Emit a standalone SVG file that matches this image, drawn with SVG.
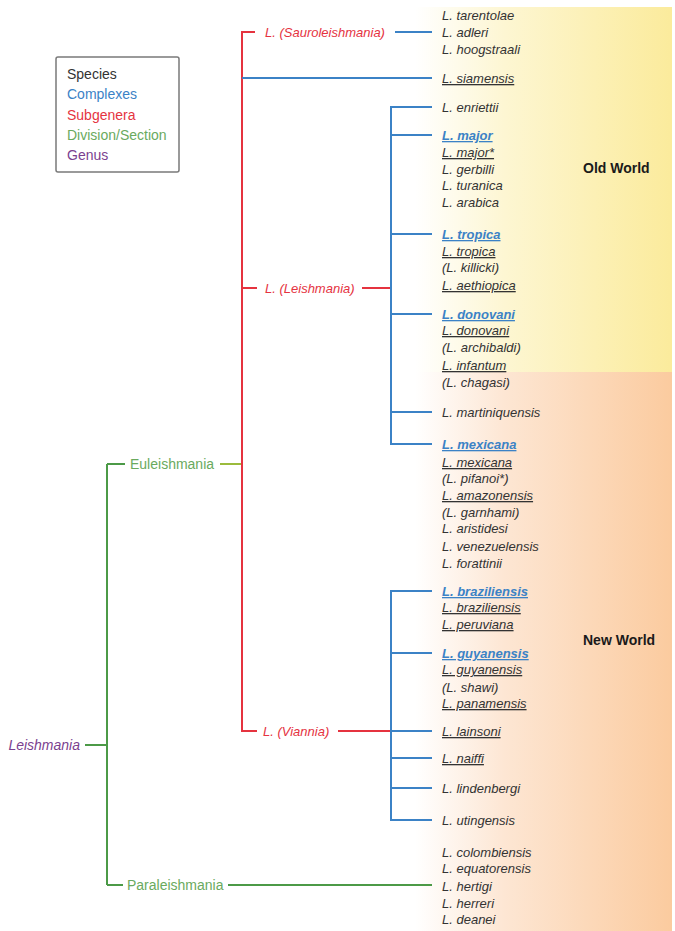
<svg xmlns="http://www.w3.org/2000/svg" width="675" height="931" viewBox="0 0 675 931">
<style>
.sp{font-family:"Liberation Sans",Arial,sans-serif;font-style:italic;font-size:13px;fill:#333333}
.u{text-decoration:underline}
.cx{font-family:"Liberation Sans",Arial,sans-serif;font-style:italic;font-weight:bold;font-size:13px;fill:#3b82c6;text-decoration:underline}
.sg{font-family:"Liberation Sans",Arial,sans-serif;font-style:italic;font-size:13px;fill:#e5333f}
.dv{font-family:"Liberation Sans",Arial,sans-serif;font-size:14px;fill:#6aaa5e}
.gn{font-family:"Liberation Sans",Arial,sans-serif;font-style:italic;font-size:14px;fill:#7b3f8f}
.wl{font-family:"Liberation Sans",Arial,sans-serif;font-weight:bold;font-size:14px;fill:#1a1a1a}
.lg{font-family:"Liberation Sans",Arial,sans-serif;font-size:14px}
.r{stroke:#e5333f;stroke-width:2;fill:none}
.b{stroke:#3b82c6;stroke-width:2;fill:none}
.g{stroke:#4c9a47;stroke-width:2;fill:none}
</style>
<defs>
<linearGradient id="yel" x1="0" y1="0" x2="1" y2="0">
<stop offset="0" stop-color="#ffffff"/>
<stop offset="0.35" stop-color="#fdf6d2"/>
<stop offset="1" stop-color="#fbeb9c"/>
</linearGradient>
<linearGradient id="org" x1="0" y1="0" x2="1" y2="0">
<stop offset="0" stop-color="#ffffff"/>
<stop offset="0.35" stop-color="#fde6d3"/>
<stop offset="1" stop-color="#fbcb9f"/>
</linearGradient>
</defs>
<rect width="675" height="931" fill="#ffffff"/>
<rect id="oldworld-bg" x="415" y="7" width="257" height="365" fill="url(#yel)"/>
<rect id="newworld-bg" x="415" y="372" width="257" height="559" fill="url(#org)"/>

<g id="legend">
<rect x="56" y="57" width="123" height="115" fill="#ffffff" stroke="#7a7a7a" stroke-width="1.5" rx="2"/>
<text class="lg" x="67" y="79" fill="#333333">Species</text>
<text class="lg" x="67" y="99" fill="#3b82c6">Complexes</text>
<text class="lg" x="67" y="120" fill="#e5333f">Subgenera</text>
<text class="lg" x="67" y="140" fill="#6aaa5e">Division/Section</text>
<text class="lg" x="67" y="160" fill="#7b3f8f">Genus</text>
</g>

<g id="connectors">
<path class="g" d="M85 745H107M107 464V885M107 464H125M107 885H123"/>
<path d="M220 464H242" stroke="#9bbb3c" stroke-width="2"/>
<path class="g" d="M228 885H432"/>
<path class="r" d="M255 32H242V731H257M242 288H257M362 288H391M338 731H391"/>
<path class="b" d="M395 32H432M242 78H432"/>
<path class="b" d="M432 107H391V444H432M391 135H432M391 234H432M391 314H432M391 412H432"/>
<path class="b" d="M432 591H391V820H432M391 653H432M391 731H432M391 758H432M391 788H432"/>
</g>

<g id="genus"><text class="gn" x="80" y="750" text-anchor="end">Leishmania</text></g>
<g id="euleishmania"><text class="dv" x="130" y="469">Euleishmania</text></g>
<g id="paraleishmania"><text class="dv" x="127" y="890">Paraleishmania</text></g>
<g id="sauroleishmania"><text class="sg" x="265" y="37">L. (Sauroleishmania)</text></g>
<g id="leishmania-sub"><text class="sg" x="265" y="293">L. (Leishmania)</text></g>
<g id="viannia"><text class="sg" x="263" y="736">L. (Viannia)</text></g>

<g id="saur-species">
<text class="sp" x="442" y="20">L. tarentolae</text>
<text class="sp" x="442" y="37">L. adleri</text>
<text class="sp" x="442" y="54">L. hoogstraali</text>
</g>
<g id="siamensis"><text class="sp u" x="442" y="83">L. siamensis</text></g>
<g id="enriettii"><text class="sp" x="442" y="112">L. enriettii</text></g>
<g id="major-complex">
<text class="cx" x="442" y="140">L. major</text>
<text class="sp u" x="442" y="157">L. major*</text>
<text class="sp" x="442" y="174">L. gerbilli</text>
<text class="sp" x="442" y="190">L. turanica</text>
<text class="sp" x="442" y="207">L. arabica</text>
</g>
<g id="tropica-complex">
<text class="cx" x="442" y="239">L. tropica</text>
<text class="sp u" x="442" y="256">L. tropica</text>
<text class="sp" x="442" y="272">(L. killicki)</text>
<text class="sp u" x="442" y="290">L. aethiopica</text>
</g>
<g id="donovani-complex">
<text class="cx" x="442" y="319">L. donovani</text>
<text class="sp u" x="442" y="335">L. donovani</text>
<text class="sp" x="442" y="352">(L. archibaldi)</text>
<text class="sp u" x="442" y="370">L. infantum</text>
<text class="sp" x="442" y="387">(L. chagasi)</text>
</g>
<g id="martiniquensis"><text class="sp" x="442" y="417">L. martiniquensis</text></g>
<g id="mexicana-complex">
<text class="cx" x="442" y="449">L. mexicana</text>
<text class="sp u" x="442" y="467">L. mexicana</text>
<text class="sp" x="442" y="483">(L. pifanoi*)</text>
<text class="sp u" x="442" y="500">L. amazonensis</text>
<text class="sp" x="442" y="517">(L. garnhami)</text>
<text class="sp" x="442" y="533">L. aristidesi</text>
<text class="sp" x="442" y="551">L. venezuelensis</text>
<text class="sp" x="442" y="568">L. forattinii</text>
</g>
<g id="braziliensis-complex">
<text class="cx" x="442" y="596">L. braziliensis</text>
<text class="sp u" x="442" y="612">L. braziliensis</text>
<text class="sp u" x="442" y="629">L. peruviana</text>
</g>
<g id="guyanensis-complex">
<text class="cx" x="442" y="658">L. guyanensis</text>
<text class="sp u" x="442" y="674">L. guyanensis</text>
<text class="sp" x="442" y="692">(L. shawi)</text>
<text class="sp u" x="442" y="708">L. panamensis</text>
</g>
<g id="lainsoni"><text class="sp u" x="442" y="736">L. lainsoni</text></g>
<g id="naiffi"><text class="sp u" x="442" y="763">L. naiffi</text></g>
<g id="lindenbergi"><text class="sp" x="442" y="793">L. lindenbergi</text></g>
<g id="utingensis"><text class="sp" x="442" y="825">L. utingensis</text></g>
<g id="para-species">
<text class="sp" x="442" y="857">L. colombiensis</text>
<text class="sp" x="442" y="873">L. equatorensis</text>
<text class="sp" x="442" y="891">L. hertigi</text>
<text class="sp" x="442" y="908">L. herreri</text>
<text class="sp" x="442" y="924">L. deanei</text>
</g>
<g id="old-world"><text class="wl" x="583" y="173">Old World</text></g>
<g id="new-world"><text class="wl" x="583" y="645">New World</text></g>
</svg>
